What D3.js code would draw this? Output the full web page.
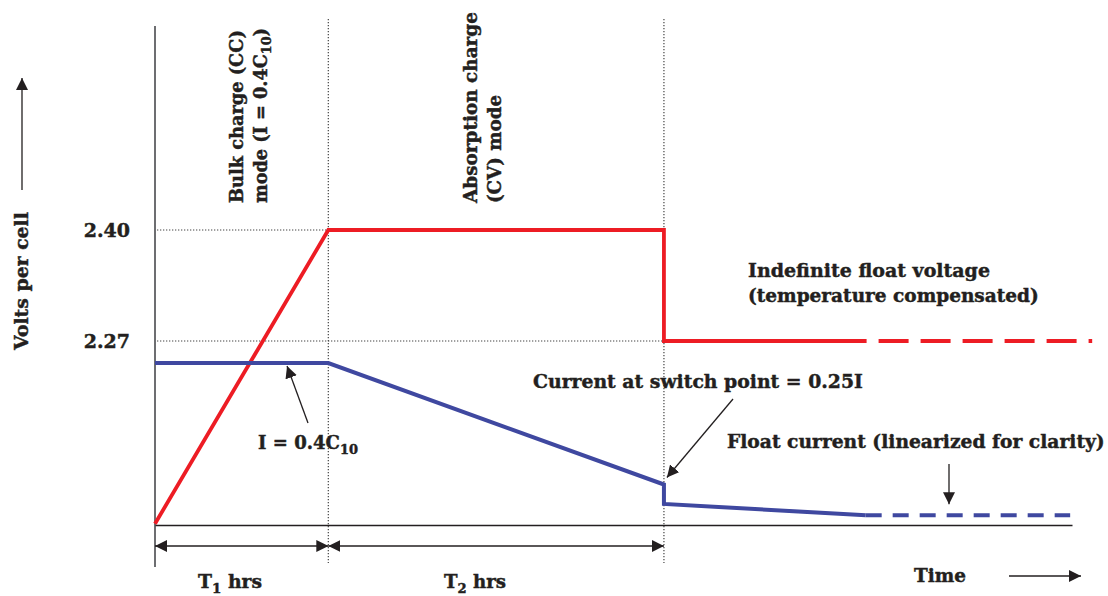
<!DOCTYPE html>
<html>
<head>
<meta charset="utf-8">
<script src="https://cdn.jsdelivr.net/npm/d3@7"></script>
<style>
  body { margin: 0; background: #fff; }
  text { font-family: "DejaVu Serif", serif; font-weight: bold; fill: #231f20;
         stroke: #231f20; stroke-width: 0.45px; }
</style>
</head>
<body>
<div id="chart"></div>
<script>
// time axis is schematic (arbitrary hours), 0 = start of charge
var phaseEnds = [18.9, 55.5];                       // end of T1, end of T2

var voltTimes  = [0, 18.9, 55.5, 55.5, 77.6],
    voltValues = [2.056, 2.40, 2.40, 2.27, 2.27],
    voltFloatEnd = 102.2;

// current as a fraction of I = 0.4C10
var currTimes  = [0, 18.9, 55.5, 55.5, 77.5],
    currValues = [1, 1, 0.25, 0.13, 0.06],
    currFloatEnd = 99.8;

var voltTicks = [2.27, 2.40];

var W = 1108, H = 596,
    red = "#ed1c24",
    blue = "#3f48a0",
    ink = "#231f20";

var svg = d3.select("#chart")
            .append("svg")
            .attr("width", W)
            .attr("height", H);

var x  = d3.scaleLinear().domain([0, 100]).range([155, 1072]),
    yV = d3.scaleLinear().domain([2.27, 2.40]).range([341, 230]),
    yI = d3.scaleLinear().domain([0, 1]).range([525, 363]);

svg.append("defs")
   .append("marker")
   .attr("id", "head")
   .attr("viewBox", "0 0 12 12")
   .attr("refX", 12)
   .attr("refY", 6)
   .attr("markerWidth", 12)
   .attr("markerHeight", 12)
   .attr("markerUnits", "userSpaceOnUse")
   .attr("orient", "auto-start-reverse")
   .append("path")
   .attr("d", "M0,0L12,6L0,12Z")
   .attr("fill", ink);

// dotted guides
svg.selectAll(".vguide")
   .data(phaseEnds)
   .enter()
   .append("line")
   .attr("class", "vguide")
   .attr("x1", function(d) { return x(d) })
   .attr("x2", function(d) { return x(d) })
   .attr("y1", 19)
   .attr("y2", 563);

svg.selectAll(".hguide")
   .data(voltTicks)
   .enter()
   .append("line")
   .attr("class", "hguide")
   .attr("x1", x(0) + 2)
   .attr("x2", function(d, i) { return x(phaseEnds[voltTicks.length - 1 - i]) })
   .attr("y1", function(d) { return yV(d) })
   .attr("y2", function(d) { return yV(d) });

svg.selectAll(".vguide, .hguide")
   .attr("stroke", "#444")
   .attr("stroke-width", 1.2)
   .attr("stroke-dasharray", "1.3,1.7");

// axes
svg.append("line")
   .attr("x1", x(0)).attr("x2", x(0))
   .attr("y1", 26).attr("y2", 567)
   .attr("stroke", "#6d6e71")
   .attr("stroke-width", 2);

var xAxis = svg.append("g")
   .attr("transform", "translate(0," + yI(0) + ")")
   .call(d3.axisBottom(x).tickValues([]).tickSizeOuter(0));
xAxis.select(".domain").attr("stroke", ink).attr("stroke-width", 1.6);

var yAxis = svg.append("g")
   .attr("transform", "translate(" + x(0) + ",0)")
   .call(d3.axisLeft(yV).tickValues(voltTicks).tickSize(0).tickPadding(25)
           .tickFormat(d3.format(".2f")));
yAxis.select(".domain").remove();
yAxis.selectAll("text")
     .attr("fill", ink)
     .attr("dy", "0.36em")
     .style("font-family", "'DejaVu Serif', serif")
     .style("font-weight", "bold")
     .style("font-size", "19px");

// voltage and current
var voltLine = d3.line()
    .x(function(d) { return x(d[0]) })
    .y(function(d) { return yV(d[1]) });
var currLine = d3.line()
    .x(function(d) { return x(d[0]) })
    .y(function(d) { return yI(d[1]) });

var voltPts = voltTimes.map(function(t, i) { return [t, voltValues[i]] }),
    currPts = currTimes.map(function(t, i) { return [t, currValues[i]] }),
    voltLast = voltPts[voltPts.length - 1],
    currLast = currPts[currPts.length - 1];

svg.append("path")
   .attr("d", voltLine(voltPts))
   .attr("fill", "none").attr("stroke", red).attr("stroke-width", 3.8);
svg.append("path")
   .attr("d", voltLine([voltLast, [voltFloatEnd, voltLast[1]]]))
   .attr("fill", "none").attr("stroke", red).attr("stroke-width", 3.8)
   .attr("stroke-dasharray", "30,12").attr("stroke-dashoffset", 30);

svg.append("path")
   .attr("d", currLine(currPts))
   .attr("fill", "none").attr("stroke", blue).attr("stroke-width", 4);
svg.append("path")
   .attr("d", currLine([currLast, [currFloatEnd, currLast[1]]]))
   .attr("fill", "none").attr("stroke", blue).attr("stroke-width", 4)
   .attr("stroke-dasharray", "16,11");

// arrows
function arrow(x1, y1, x2, y2, both) {
  var l = svg.append("line")
     .attr("x1", x1).attr("y1", y1).attr("x2", x2).attr("y2", y2)
     .attr("stroke", ink).attr("stroke-width", 1.3)
     .attr("marker-end", "url(#head)");
  if (both) l.attr("marker-start", "url(#head)");
}

arrow(x(0), 546, x(phaseEnds[0]), 546, true);
arrow(x(phaseEnds[0]), 546, x(phaseEnds[1]), 546, true);
arrow(22, 190, 22, 78);
arrow(1009, 576, 1081, 576);
arrow(308, 423, x(14.4), yI(1) + 3);
arrow(733, 399, x(phaseEnds[1]) + 3, yI(0.25) - 7);
arrow(949, 464, 949, yI(currLast[1]) - 11);

// labels; {sub: ".."} parts are subscripts
function label(px, py, parts, target, rot) {
  var t = svg.append("text")
     .attr("transform", "translate(" + px + "," + py + ")" + (rot ? " rotate(-90)" : ""))
     .style("font-size", "18px");
  var afterSub = false;
  parts.forEach(function(p) {
    if (typeof p === "string") {
      var s = t.append("tspan").text(p);
      if (afterSub) s.attr("dy", "-0.25em");
      afterSub = false;
    } else {
      t.append("tspan").text(p.sub)
       .style("font-size", "0.72em").attr("dy", "0.35em");
      afterSub = true;
    }
  });
  var w = t.node().getComputedTextLength();
  t.style("font-size", (18 * target / w) + "px");
  return t;
}

label(28, 350, ["Volts per cell"], 138, true);
label(243, 203, ["Bulk charge (CC)"], 173, true);
label(267, 203, ["mode (I = 0.4C", {sub: "10"}, ")"], 175, true);
label(477, 203, ["Absorption charge"], 191, true);
label(501, 203, ["(CV) mode"], 108, true);

label(748, 277, ["Indefinite float voltage"], 242);
label(748, 302, ["(temperature compensated)"], 291);
label(533, 388, ["Current at switch point = 0.25I"], 330);
label(727, 448, ["Float current (linearized for clarity)"], 378);
label(258, 449, ["I = 0.4C", {sub: "10"}], 100);
label(198, 588, ["T", {sub: "1"}, " hrs"], 64);
label(444, 588, ["T", {sub: "2"}, " hrs"], 62);
label(914, 582, ["Time"], 52);
</script>
</body>
</html>
